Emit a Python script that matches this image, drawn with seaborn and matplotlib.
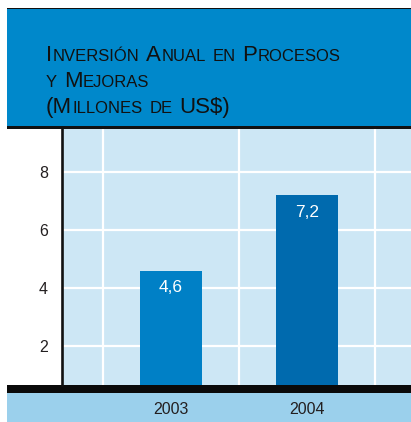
import matplotlib
matplotlib.use('Agg')
import matplotlib.pyplot as plt
from matplotlib.patches import Rectangle
from matplotlib.ticker import MultipleLocator
from matplotlib.font_manager import FontProperties
import seaborn as sns
import pandas as pd

# ---- data ----
years = ['2003', '2004']
values = [4.6, 7.2]
value_labels = ['4,6', '7,2']
bar_colors = ['#0080C6', '#006AAE']
y_ticks = [2, 4, 6, 8]
title_lines = ['Inversión Anual en Procesos', 'y Mejoras', '(Millones de US$)']

W, H = 411, 422
sns.set_theme(style='white')
FAMILY = ['Liberation Sans', 'DejaVu Sans']
plt.rcParams['font.family'] = FAMILY

fig = plt.figure(figsize=(W / 100, H / 100), dpi=100)
fig.patch.set_facecolor('white')


def rect(x0, y0, x1, y1, color, z=-1):
    fig.add_artist(Rectangle((x0 / W, 1 - y1 / H), (x1 - x0) / W, (y1 - y0) / H,
                             transform=fig.transFigure, facecolor=color,
                             edgecolor='none', zorder=z))


# header block and rules
rect(7, 9, W, 127, '#0088CB')
rect(7, 7.5, W, 9.3, '#111111')
rect(7, 126.5, W, 128.5, '#111111')
# bottom rule and strip
rect(7, 385, W, 393, '#0A0A0A')
rect(7, 393, W, H, '#9BD0EC')

# ---- axes ----
ax = fig.add_axes([62 / W, 1 - 385 / H, (W - 62) / W, (385 - 128.5) / H])
df = pd.DataFrame({'year': years, 'value': values})
sns.barplot(data=df, x='year', y='value', hue='year', palette=bar_colors,
            width=0.456, saturation=1, legend=False, ax=ax, zorder=3,
            linewidth=0, edgecolor='none')
ax.set_facecolor('#CDE7F5')
ax.set_xlim(-0.80, 1.765)
ax.set_ylim(0.65, 9.5)
ax.set_yticks(y_ticks)
ax.set_yticklabels([str(v) for v in y_ticks])
ax.xaxis.set_minor_locator(MultipleLocator(0.5))
ax.set_axisbelow(True)
ax.grid(False)
ax.yaxis.grid(True, which='major', color='white', linewidth=1.6)
ax.xaxis.grid(True, which='minor', color='white', linewidth=1.6)
ax.set_xlabel('')
ax.set_ylabel('')
for s in ['top', 'right', 'bottom']:
    ax.spines[s].set_visible(False)
ax.spines['left'].set_color('#111111')
ax.spines['left'].set_linewidth(1.9)
ax.tick_params(axis='y', length=0, pad=10, labelsize=11.5, labelcolor='#231F20')
ax.tick_params(axis='x', which='both', length=0, pad=12, labelsize=11.5, labelcolor='#231F20')

for i, (v, lbl) in enumerate(zip(values, value_labels)):
    ax.annotate(lbl, xy=(i, v), xytext=(0, -7), textcoords='offset points',
                ha='center', va='top', color='white', fontsize=12.5, zorder=5)

# ---- small-caps title ----
renderer = fig.canvas.get_renderer()


def text_w(s, size):
    fp = FontProperties(family=FAMILY, size=size)
    w, h, d = renderer.get_text_width_height_descent(s, fp, ismath=False)
    return w


def smallcaps(text, x0, y0, big=16, small=12, color='#111111'):
    x = x0
    runs = []
    for ch in text:
        if ch == ' ':
            runs.append([' ', None])
            continue
        is_small = ch.islower()
        s = ch.upper() if is_small else ch
        if runs and runs[-1][1] == is_small:
            runs[-1][0] += s
        else:
            runs.append([s, is_small])
    for s, is_small in runs:
        if is_small is None:
            x += text_w('I I', big) - text_w('II', big)
            continue
        size = small if is_small else big
        t = fig.text(x / W, 1 - y0 / H, s, fontsize=size, va='baseline',
                     ha='left', color=color)
        x += t.get_window_extent(renderer).width + 0.6


baselines = [61, 87, 113]
for line, yb in zip(title_lines, baselines):
    smallcaps(line, 46, yb)

fig.savefig('out.png', dpi=100)
